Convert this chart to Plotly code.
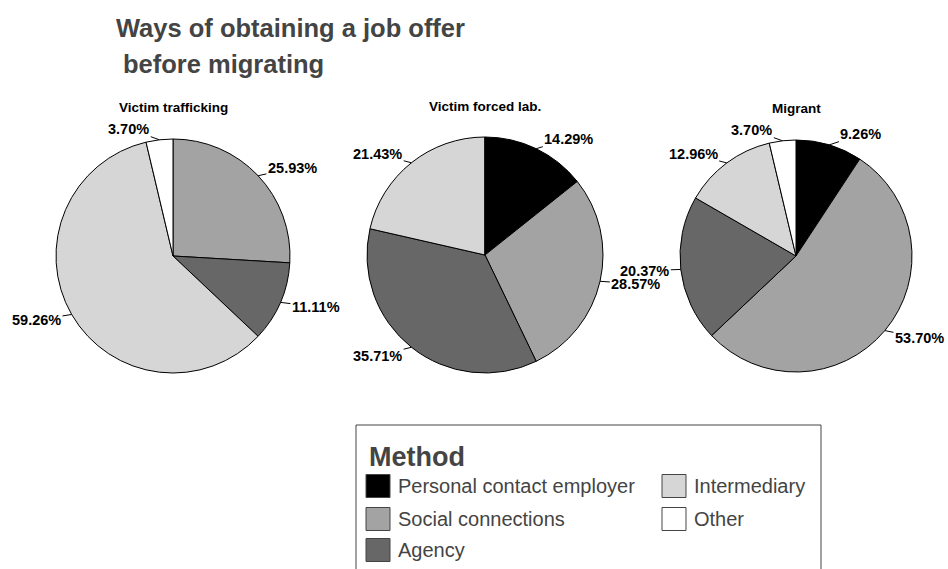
import math
import plotly.graph_objects as go

W, H = 948, 569

methods = ["Personal contact employer", "Social connections", "Agency", "Intermediary", "Other"]
colors = ["#000000", "#a3a3a3", "#676767", "#d6d6d6", "#ffffff"]

groups = ["Victim trafficking", "Victim forced lab.", "Migrant"]
victim_trafficking = [0.00, 25.93, 11.11, 59.26, 3.70]
victim_forced_lab = [14.29, 28.57, 35.71, 21.43, 0.00]
migrant = [9.26, 53.70, 20.37, 12.96, 3.70]
series = [victim_trafficking, victim_forced_lab, migrant]

# layout (pixel geometry of each pie: center x, center y (from top), radius)
pie_geom = [(173, 256, 117), (485, 255, 118), (796, 256, 116)]

FONT = "Arial, Liberation Sans, sans-serif"

fig = go.Figure()
annotations = []

for name, vals, (cx, cy, r) in zip(groups, series, pie_geom):
    dom_x = [(cx - r) / W, (cx + r) / W]
    dom_y = [(H - cy - r) / H, (H - cy + r) / H]
    fig.add_trace(go.Pie(
        labels=methods, values=vals, sort=False, direction="clockwise", rotation=0,
        marker=dict(colors=colors, line=dict(color="#000000", width=1)),
        textinfo="none", hoverinfo="label+percent", showlegend=False,
        domain=dict(x=dom_x, y=dom_y),
    ))
    # subplot title
    annotations.append(dict(
        text="<b>%s</b>" % name, x=cx / W, y=(H - cy + r + 31) / H,
        xref="paper", yref="paper", showarrow=False, xanchor="center", yanchor="middle",
        font=dict(family=FONT, size=13.5, color="#000000"),
    ))
    total = sum(vals)
    cum = 0.0
    for v in vals:
        if v <= 0:
            continue
        mid = (cum + v / 2) / total * 2 * math.pi
        cum += v
        s, c = math.sin(mid), math.cos(mid)
        px = cx + r * s
        py = cy - r * c
        dx = 30 + 6 * abs(s)
        annotations.append(dict(
            text="<b>%.2f%%</b>" % v, x=px / W, y=(H - py) / H,
            xref="paper", yref="paper", showarrow=True,
            ax=(dx if s > 0 else -dx), ay=-11 * c,
            arrowhead=0, arrowwidth=1, arrowcolor="#000000", standoff=0,
            font=dict(family=FONT, size=14.5, color="#000000"),
        ))

# title
annotations.append(dict(
    text="<b>Ways of obtaining a job offer</b>", x=114 / W, y=(H - 28) / H,
    xref="paper", yref="paper", showarrow=False, xanchor="left", yanchor="middle",
    font=dict(family=FONT, size=25.5, color="#444444"),
))
annotations.append(dict(
    text="<b>before migrating</b>", x=121 / W, y=(H - 64) / H,
    xref="paper", yref="paper", showarrow=False, xanchor="left", yanchor="middle",
    font=dict(family=FONT, size=25.5, color="#444444"),
))

# manual legend
shapes = []
shapes.append(dict(type="rect", xref="paper", yref="paper",
                   x0=356 / W, x1=821 / W, y0=(H - 575) / H, y1=(H - 425) / H,
                   line=dict(color="#444444", width=1), fillcolor="rgba(0,0,0,0)"))
annotations.append(dict(
    text="<b>Method</b>", x=367 / W, y=(H - 457) / H,
    xref="paper", yref="paper", showarrow=False, xanchor="left", yanchor="middle",
    font=dict(family=FONT, size=27, color="#444444"),
))
legend_pos = [(366, 486), (366, 519), (366, 550), (662, 486), (662, 519)]
for m, col, (lx, ly) in zip(methods, colors, legend_pos):
    shapes.append(dict(type="rect", xref="paper", yref="paper",
                       x0=lx / W, x1=(lx + 24) / W, y0=(H - ly - 11.5) / H, y1=(H - ly + 11.5) / H,
                       line=dict(color="#444444", width=1), fillcolor=col))
    annotations.append(dict(
        text=m, x=(lx + 30) / W, y=(H - ly) / H,
        xref="paper", yref="paper", showarrow=False, xanchor="left", yanchor="middle",
        font=dict(family=FONT, size=20, color="#444444"),
    ))

fig.update_layout(
    width=W, height=H, margin=dict(l=0, r=0, t=0, b=0),
    paper_bgcolor="#ffffff", plot_bgcolor="#ffffff",
    annotations=annotations, shapes=shapes, showlegend=False,
)

fig.write_html("out.html", config={"displayModeBar": False},
               post_script="document.body.style.margin='0';document.body.style.overflow='hidden';")
